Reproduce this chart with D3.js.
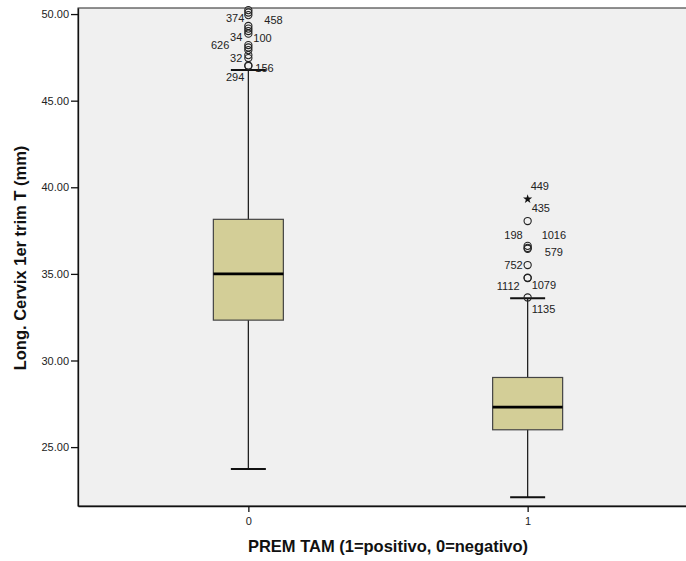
<!DOCTYPE html>
<html lang="es">
<head>
<meta charset="utf-8">
<title>Long. Cervix 1er trim T</title>
<script src="https://d3js.org/d3.v7.min.js"></script>
<style>
body { margin: 0; background: #fff; font-family: "Liberation Sans", Arial, sans-serif; }
.tick text { font-size: 11px; fill: #222; }
.lbl { font-size: 11px; fill: #222; }
.title { font-size: 16.5px; font-weight: bold; fill: #111; }
</style>
</head>
<body>
<div id="chart"></div>
<script>
// categories and box statistics
var groups = ["0", "1"];
var q1 = [32.33, 26.00];
var median = [35.00, 27.31];
var q3 = [38.15, 29.02];
var whiskerLow = [23.73, 22.11];
var whiskerHigh = [46.77, 33.60];

// outliers, group 0
var out0Values = [50.23, 50.09, 49.94, 49.31, 49.16, 49.02, 48.87, 48.21, 48.07, 47.92, 47.63, 47.46, 47.03, 47.00];
var out0Ids = ["", "374", "458", "34", "100", "", "", "626", "", "", "32", "", "156", "294"];
// outliers, group 1 (first one is an extreme value -> star)
var out1Values = [39.32, 38.05, 36.62, 36.50, 36.45, 35.51, 34.78, 34.76, 33.64];
var out1Ids = ["449", "435", "198", "1016", "579", "752", "1112", "1079", "1135"];
var out1Extreme = [true, false, false, false, false, false, false, false, false];

var yTicks = [25, 30, 35, 40, 45, 50];

// label placement next to each point: [dx, dy, anchor]
var labelPos = {
  "374": [-4, 5.5, "end"], "458": [16, 5, "start"], "34": [-6, 11, "end"],
  "100": [5, 9.5, "start"], "626": [-19, 0, "end"], "32": [-6, 3, "end"],
  "156": [7, 2.5, "start"], "294": [-4, 11, "end"],
  "449": [3, -12.5, "start"], "435": [4, -13, "start"], "198": [-5, -11, "end"],
  "1016": [14, -13, "start"], "579": [17, 3, "start"], "752": [-5, 0, "end"],
  "1112": [-8, 8, "end"], "1079": [4, 7.6, "start"], "1135": [4, 11.5, "start"]
};

var W = 686, H = 561;
var plotL = 78, plotR = 698, plotT = 8, plotB = 506;
var boxW = 70, capW = 35;

var svg = d3.select("#chart").append("svg")
  .attr("width", W).attr("height", H);

var x = d3.scalePoint().domain(groups).range([plotL, plotR]).padding(0.61);
var y = d3.scaleLinear().domain([21.6, 50.35]).range([plotB, plotT]);

// plot background
svg.append("rect")
  .attr("x", plotL).attr("y", plotT)
  .attr("width", plotR - plotL).attr("height", plotB - plotT)
  .attr("fill", "#f0f0f0")
  .attr("stroke", "#222").attr("stroke-width", 1);

var stats = groups.map(function(g, i) {
  return { g: g, q1: q1[i], med: median[i], q3: q3[i], lo: whiskerLow[i], hi: whiskerHigh[i] };
});

var bx = svg.append("g").selectAll("g").data(stats).enter().append("g");

// whiskers
bx.append("line")
  .attr("x1", function(d) { return x(d.g); }).attr("x2", function(d) { return x(d.g); })
  .attr("y1", function(d) { return y(d.hi); }).attr("y2", function(d) { return y(d.lo); })
  .attr("stroke", "#222").attr("stroke-width", 1.3);
bx.selectAll(".cap").data(function(d) { return [d, d]; }).enter().append("line")
  .attr("x1", function(d) { return x(d.g) - capW / 2; }).attr("x2", function(d) { return x(d.g) + capW / 2; })
  .attr("y1", function(d, i) { return y(i ? d.lo : d.hi); })
  .attr("y2", function(d, i) { return y(i ? d.lo : d.hi); })
  .attr("stroke", "#111").attr("stroke-width", 2);

// boxes
bx.append("rect")
  .attr("x", function(d) { return x(d.g) - boxW / 2; })
  .attr("y", function(d) { return y(d.q3); })
  .attr("width", boxW)
  .attr("height", function(d) { return y(d.q1) - y(d.q3); })
  .attr("fill", "#d3ce97")
  .attr("stroke", "#444").attr("stroke-width", 1.2);
bx.append("line")
  .attr("x1", function(d) { return x(d.g) - boxW / 2; }).attr("x2", function(d) { return x(d.g) + boxW / 2; })
  .attr("y1", function(d) { return y(d.med); }).attr("y2", function(d) { return y(d.med); })
  .attr("stroke", "#000").attr("stroke-width", 2.6);

// outliers
var outliers = [];
out0Values.forEach(function(v, i) { outliers.push({ g: "0", v: v, id: out0Ids[i], ext: false }); });
out1Values.forEach(function(v, i) { outliers.push({ g: "1", v: v, id: out1Ids[i], ext: out1Extreme[i] }); });

var og = svg.append("g");
og.selectAll("circle").data(outliers.filter(function(d) { return !d.ext; })).enter().append("circle")
  .attr("cx", function(d) { return x(d.g); })
  .attr("cy", function(d) { return y(d.v); })
  .attr("r", 3.6)
  .attr("fill", "none")
  .attr("stroke", "#222").attr("stroke-width", 1.1);
og.selectAll("path").data(outliers.filter(function(d) { return d.ext; })).enter().append("path")
  .attr("d", d3.symbol().type(d3.symbolStar).size(26))
  .attr("transform", function(d) { return "translate(" + x(d.g) + "," + y(d.v) + ")"; })
  .attr("fill", "#111");

og.selectAll("text").data(outliers.filter(function(d) { return d.id !== ""; })).enter().append("text")
  .attr("class", "lbl")
  .attr("x", function(d) { return x(d.g) + labelPos[d.id][0]; })
  .attr("y", function(d) { return y(d.v) + labelPos[d.id][1]; })
  .attr("dy", "0.35em")
  .attr("text-anchor", function(d) { return labelPos[d.id][2]; })
  .text(function(d) { return d.id; });

// axes
svg.append("g")
  .attr("transform", "translate(" + plotL + ",0)")
  .call(d3.axisLeft(y).tickValues(yTicks).tickFormat(d3.format(".2f")).tickSize(7).tickPadding(2).tickSizeOuter(0))
  .call(function(g) { g.selectAll("line, path").attr("stroke", "#111").attr("stroke-width", 1.3); })
  .call(function(g) { g.selectAll("text").style("font-family", "Liberation Sans, Arial, sans-serif"); });

svg.append("g")
  .attr("transform", "translate(0," + plotB + ")")
  .call(d3.axisBottom(x).tickSize(6).tickPadding(5).tickSizeOuter(0))
  .call(function(g) { g.selectAll("line, path").attr("stroke", "#111").attr("stroke-width", 1.3); })
  .call(function(g) { g.selectAll("text").style("font-family", "Liberation Sans, Arial, sans-serif"); });

// titles
svg.append("text").attr("class", "title")
  .attr("transform", "translate(20,258) rotate(-90)")
  .attr("text-anchor", "middle").attr("dy", "0.35em")
  .text("Long. Cervix 1er trim T (mm)");

svg.append("text").attr("class", "title")
  .attr("x", 388).attr("y", 546)
  .attr("text-anchor", "middle").attr("dy", "0.35em")
  .text("PREM TAM (1=positivo, 0=negativo)");
</script>
</body>
</html>
